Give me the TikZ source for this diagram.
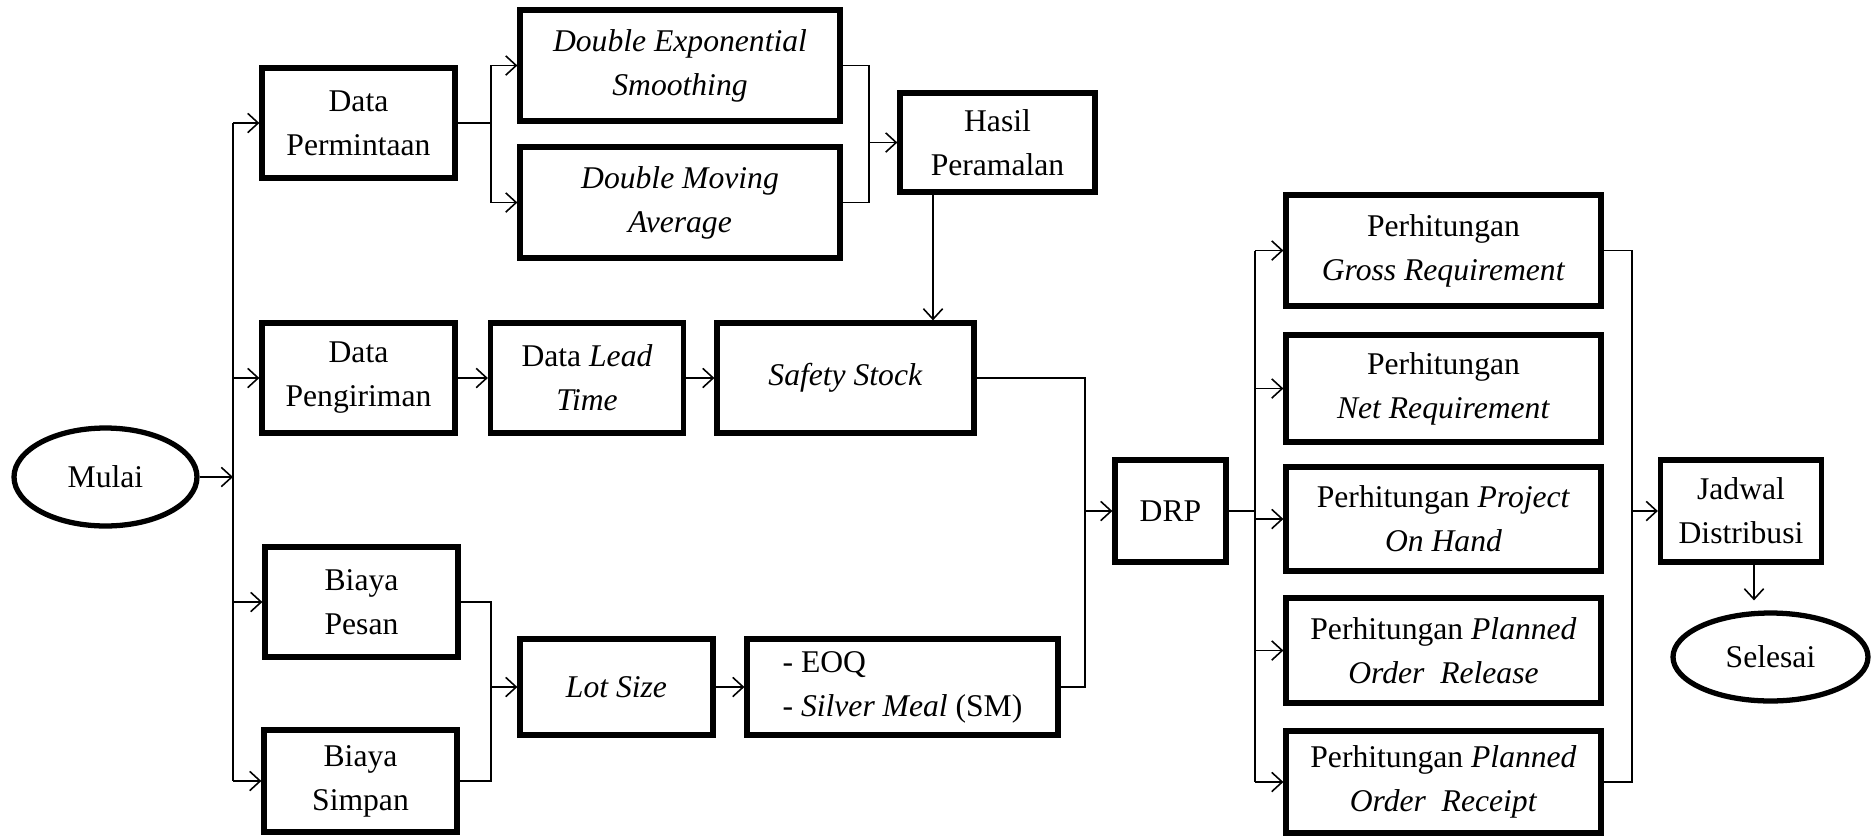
\documentclass[tikz,border=0pt]{standalone}
\usepackage{fontspec}
\setmainfont{Liberation Serif}
\usetikzlibrary{arrows.meta}
\usetikzlibrary{shapes.geometric}

\tikzset{
  box/.style={draw, line width=3pt, align=center, inner sep=0pt, font=\fontsize{18}{25}\selectfont},
  oval/.style={draw, ellipse, line width=3pt, inner sep=0pt, font=\fontsize{18}{25}\selectfont},
  line/.style={line width=0.9pt},
  arr/.style={line width=0.9pt, -{Straight Barb[length=6pt,width=11pt]}}
}

\begin{document}
\begin{tikzpicture}[x=0.02cm, y=-0.02cm]
		\useasboundingbox (0,0) rectangle (1874,836);
		% start
		\node[oval, minimum width=3.66cm, minimum height=1.96cm] (mulai) at (105.5,477) {Mulai};
		\coordinate (tr) at (233,477);
		
		% input data
		\node[box, minimum width=3.86cm, minimum height=2.2cm] (perm)   at (358.5,123) {Data\\Permintaan};
		\node[box, minimum width=3.86cm, minimum height=2.2cm] (kirim)  at (358.5,378) {Data\\Pengiriman};
		\node[box, minimum width=3.86cm, minimum height=2.2cm] (pesan)  at (361.5,602) {Biaya\\Pesan};
		\node[box, minimum width=3.86cm, minimum height=2.04cm] (simpan) at (360.5,781) {Biaya\\Simpan};
		
		% forecasting
		\node[box, minimum width=6.4cm, minimum height=2.22cm] (des) at (680,65.5) {\textit{Double Exponential}\\\textit{Smoothing}};
		\node[box, minimum width=6.4cm, minimum height=2.22cm] (dma) at (680,202.5) {\textit{Double Moving}\\\textit{Average}};
		\node[box, minimum width=3.9cm, minimum height=1.98cm] (hasil) at (997.5,142.5) {Hasil\\Peramalan};
		
		\node[box, minimum width=3.86cm, minimum height=2.2cm] (lead)   at (587,378) {Data \textit{Lead}\\\textit{Time}};
		\node[box, minimum width=5.14cm, minimum height=2.2cm] (safety) at (845.5,378) {\textit{Safety Stock}};
		
		\node[box, minimum width=3.86cm, minimum height=1.92cm] (lot) at (616.5,687) {\textit{Lot Size}};
		\node[box, minimum width=6.22cm, minimum height=1.92cm, align=left] (eoq) at (902.5,687) {- EOQ\\- \textit{Silver Meal} (SM)};
		
		\node[box, minimum width=2.22cm, minimum height=2.04cm] (drp) at (1170.5,511) {DRP};
		
		% DRP steps
		\node[box, minimum width=6.3cm, minimum height=2.22cm] (gross) at (1443.5,250.5) {Perhitungan\\\textit{Gross Requirement}};
		\node[box, minimum width=6.3cm, minimum height=2.14cm] (net)   at (1443.5,388.5) {Perhitungan\\\textit{Net Requirement}};
		\node[box, minimum width=6.3cm, minimum height=2.08cm] (poh)   at (1443.5,519) {Perhitungan \textit{Project}\\\textit{On Hand}};
		\node[box, minimum width=6.3cm, minimum height=2.1cm]  (por)   at (1443.5,650.5) {Perhitungan \textit{Planned}\\\textit{Order~~Release}};
		\node[box, minimum width=6.3cm, minimum height=2.04cm] (porc)  at (1443.5,782) {Perhitungan \textit{Planned}\\\textit{Order~~Receipt}};
		
		\node[box, minimum width=3.22cm, minimum height=2.04cm] (jadwal) at (1741,511) {Jadwal\\Distribusi};
		\node[oval, minimum width=3.9cm, minimum height=1.76cm] (selesai) at (1770.5,657) {Selesai};
		
		% connectors
		\draw[arr] (mulai.east) -- (tr);
		\draw[line] (tr |- perm.west) -- (tr |- simpan.west);
		\foreach \n in {perm,kirim,pesan,simpan}
			\draw[arr] (tr |- \n.west) -- (\n.west);
		
		\coordinate (sp) at (491,123);
		\draw[line] (perm.east) -- (sp);
		\draw[arr] (sp) |- (des.west);
		\draw[arr] (sp) |- (dma.west);
		
		\coordinate (mg) at (869,142.5);
		\draw[line] (des.east) -| (mg);
		\draw[line] (dma.east) -| (mg);
		\draw[arr] (mg) -- (hasil.west);
		\draw[arr] ([xshift=-1.29cm]hasil.south) -- ([xshift=-1.29cm]hasil.south |- safety.north);
		
		\draw[arr] (kirim) -- (lead);
		\draw[arr] (lead) -- (safety);
		
		\coordinate (bl) at (491,687);
		\draw[line] (pesan.east) -| (bl);
		\draw[line] (simpan.east) -| (bl);
		\draw[arr] (bl) -- (lot.west);
		\draw[arr] (lot) -- (eoq);
		
		\coordinate (sd) at (1085,511);
		\draw[line] (safety.east) -| (sd);
		\draw[line] (eoq.east) -| (sd);
		\draw[arr] (sd) -- (drp.west);
		
		\coordinate (fd) at (1255,511);
		\draw[line] (drp.east) -- (fd);
		\draw[line] (fd |- gross.west) -- (fd |- porc.west);
		\foreach \n in {gross,net,poh,por,porc}
			\draw[arr] (fd |- \n.west) -- (\n.west);
		
		\coordinate (fo) at (1632,511);
		\draw[line] (gross.east) -| (fo);
		\draw[line] (porc.east) -| (fo);
		\draw[arr] (fo) -- (jadwal.west);
		\draw[arr, shorten >=0.2cm] ([xshift=0.26cm]jadwal.south) -- ([xshift=0.26cm]jadwal.south |- selesai.north);
		\end{tikzpicture}
\end{document}
